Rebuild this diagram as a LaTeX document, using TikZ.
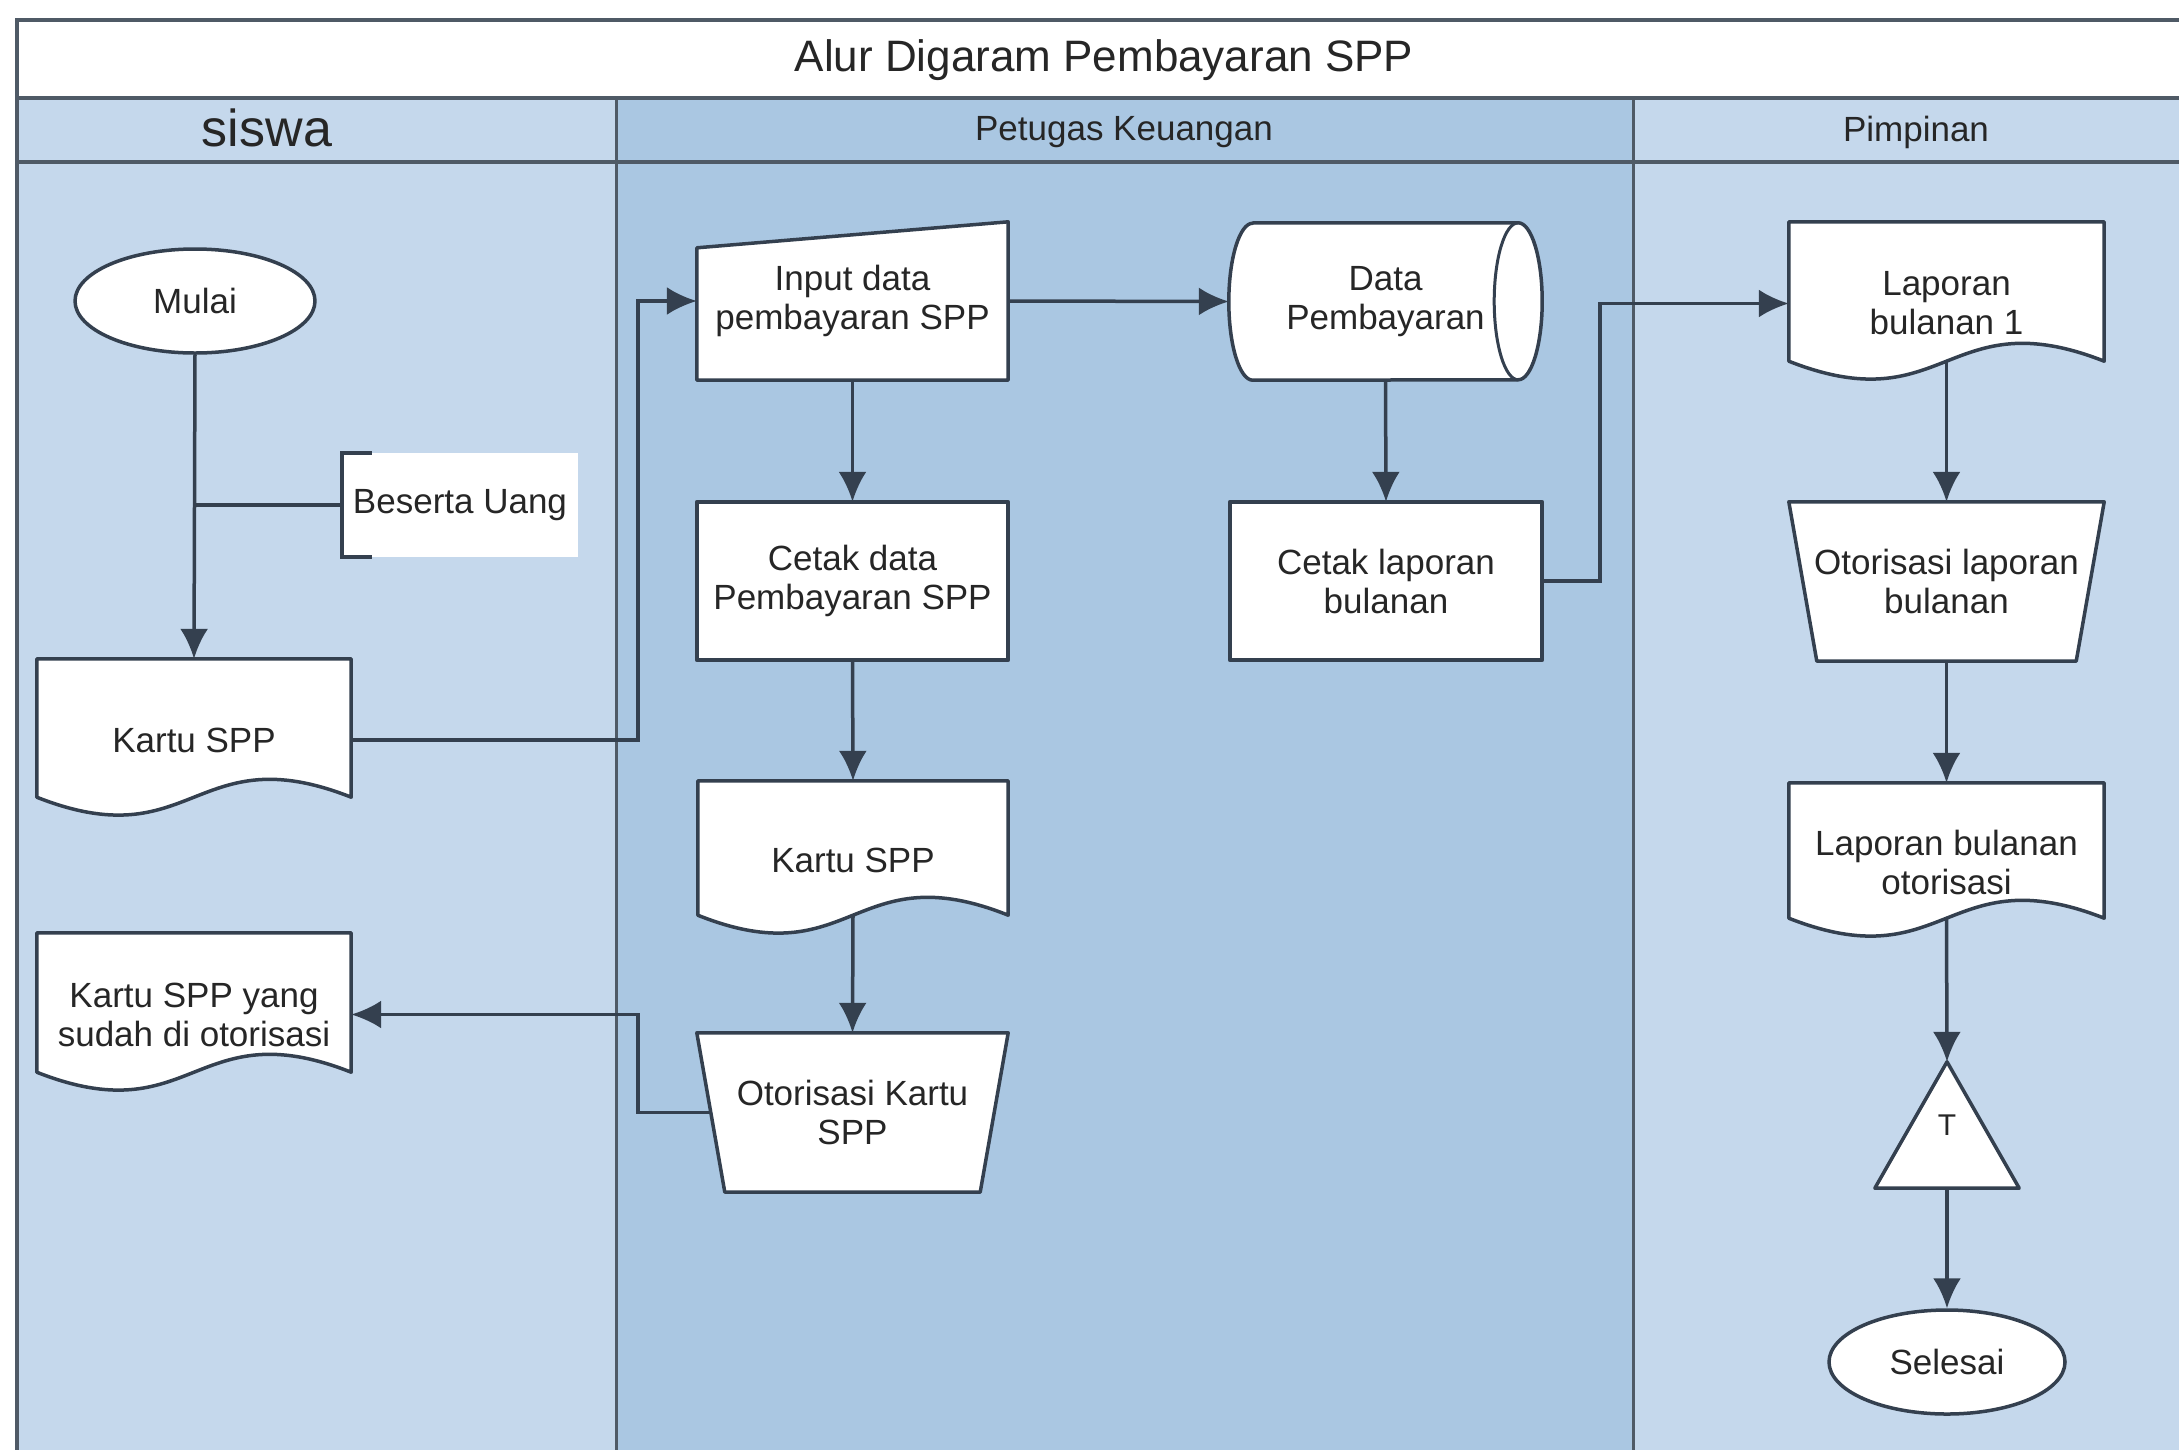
\documentclass[tikz,border=0pt]{standalone}
\usepackage{fontspec}
\setmainfont{Liberation Sans}
\usetikzlibrary{shapes.geometric,arrows.meta,calc}
\definecolor{lnc}{HTML}{34404F}
\definecolor{frm}{HTML}{4F5A66}
\definecolor{lanea}{HTML}{C5D8EC}
\definecolor{laneb}{HTML}{AAC7E2}
\definecolor{txc}{HTML}{262626}
\pgfdeclarelayer{lanes}
\pgfdeclarelayer{shapes}
\pgfsetlayers{lanes,shapes,main}
\newcommand\mynodefont{\fontsize{35}{39}\selectfont}
\newcommand\docshape[1]{%
  \begin{pgfonlayer}{shapes}
  \draw[shp] (#1.north west) -- (#1.north east) -- ($(#1.south east)+(0,-24)$)
    .. controls ($(#1.south)+(0,-86)$) and ($(#1.south)+(0,38)$) .. ($(#1.south west)+(0,-24)$) -- cycle;
  \end{pgfonlayer}}
\newcommand\trapshape[1]{%
  \begin{pgfonlayer}{shapes}
  \draw[shp] (#1.north west) -- (#1.north east) -- ($(#1.south east)+(-28,0)$) -- ($(#1.south west)+(28,0)$) -- cycle;
  \end{pgfonlayer}}
\newcommand\rectshape[1]{%
  \begin{pgfonlayer}{shapes}
  \draw[shp] (#1.north west) rectangle (#1.south east);
  \end{pgfonlayer}}
\begin{document}
\begin{tikzpicture}[x=1pt,y=-1pt,
  shp/.style={draw=lnc, line width=3.5pt, fill=white, line join=round},
  txt/.style={font=\mynodefont, align=center, text=txc, inner sep=0pt},
  ln/.style={draw=lnc, line width=3.5pt},
  arr/.style={draw=lnc, line width=3.5pt, -{Latex[length=30pt,width=28pt]}},
  frml/.style={draw=frm, line width=4pt},
  divl/.style={draw=frm, line width=3pt}]
\useasboundingbox (0,0) rectangle (2179,1449);
% lanes
\begin{pgfonlayer}{lanes}
\fill[white] (0,0) rectangle (2179,1449);
\fill[lanea] (17,98) rectangle (616,1470);
\fill[laneb] (616,98) rectangle (1633,1470);
\fill[lanea] (1633,98) rectangle (2200,1470);
\draw[divl] (616,98) -- (616,1470);
\draw[divl] (1633,98) -- (1633,1470);
\draw[frml] (17,98) -- (2200,98);
\draw[frml] (17,162) -- (2200,162);
\draw[frml] (17,20) rectangle (2200,1470);
\end{pgfonlayer}
% headers
\node[font=\fontsize{44}{50}\selectfont, text=txc] (title) at (1104,60) {Alur Digaram Pembayaran SPP};
\node[font=\fontsize{52}{58}\selectfont, text=txc] (hs) at (267,128) {siswa};
\node[txt] (hp) at (1124,132) {Petugas Keuangan};
\node[txt] (hm) at (1916,132) {Pimpinan};
% siswa
\node[shape=ellipse, shp, txt, minimum width=240pt, minimum height=104pt] (m) at (195,301) {Mulai};
\node[txt, fill=white, minimum width=236pt, minimum height=104pt] (bu) at (460,505) {Beserta Uang};
\draw[ln] ($(bu.north west)+(30,0)$) -- (bu.north west) -- (bu.south west) -- ($(bu.south west)+(30,0)$);
\node[txt, minimum width=314pt, minimum height=162pt] (k1) at (194,740) {Kartu SPP};
\docshape{k1}
\node[txt, minimum width=314pt, minimum height=163pt] (k3) at (194,1014.5) {Kartu SPP yang\\sudah di otorisasi};
\docshape{k3}
% petugas
\node[txt, minimum width=311pt, minimum height=158pt] (inp) at (852.5,301) {Input data\\pembayaran SPP};
\begin{pgfonlayer}{shapes}
\draw[shp] (inp.south west) -- (inp.south east) -- (inp.north east) -- ($(inp.north west)+(0,26)$) -- cycle;
\end{pgfonlayer}
\node[txt, minimum width=313pt, minimum height=157pt] (dp) at (1385.5,301.5) {Data\\Pembayaran};
\begin{pgfonlayer}{shapes}
\draw[shp] ($(dp.north west)+(24,0)$) -- ($(dp.north east)+(-24,0)$)
  arc[start angle=90, end angle=-90, x radius=24pt, y radius=78.5pt]
  -- ($(dp.south west)+(24,0)$)
  arc[start angle=270, end angle=90, x radius=24pt, y radius=78.5pt] -- cycle;
\draw[ln, line width=3pt] ($(dp.north east)+(-24,0)$) arc[start angle=90, end angle=270, x radius=24pt, y radius=78.5pt];
\end{pgfonlayer}
\node[txt, minimum width=311pt, minimum height=158pt] (cd) at (852.5,581) {Cetak data\\Pembayaran SPP};
\rectshape{cd}
\node[txt, minimum width=312pt, minimum height=158pt] (cl) at (1386,581) {Cetak laporan\\bulanan};
\rectshape{cl}
\node[txt, minimum width=310pt, minimum height=158pt] (k2) at (853,860) {Kartu SPP};
\docshape{k2}
\node[txt, minimum width=311pt, minimum height=159pt] (ok) at (852.5,1112.5) {Otorisasi Kartu\\SPP};
\trapshape{ok}
% pimpinan
\node[txt, minimum width=315pt, minimum height=163pt] (lb1) at (1946.5,303.5) {Laporan\\bulanan 1};
\docshape{lb1}
\node[txt, minimum width=315pt, minimum height=159pt] (ol) at (1946.5,581.5) {Otorisasi laporan\\bulanan};
\trapshape{ol}
\node[txt, minimum width=315pt, minimum height=159pt] (lbo) at (1946.5,862.5) {Laporan bulanan\\otorisasi};
\docshape{lbo}
\node[txt, font=\fontsize{30}{34}\selectfont, minimum width=144pt, minimum height=126pt] (tri) at (1947,1125) {T};
\begin{pgfonlayer}{shapes}
\draw[shp] (tri.north) -- (tri.south east) -- (tri.south west) -- cycle;
\end{pgfonlayer}
\node[shape=ellipse, shp, txt, minimum width=236pt, minimum height=104pt] (sel) at (1947,1362) {Selesai};
% connectors
\coordinate (xa) at (638,0);
\coordinate (xb) at (1600,0);
\draw[arr] (m.south) -- (k1.north);
\draw[ln] (bu.west) -- (bu.west -| m.south);
\draw[arr] (k1.east) -| (xa |- inp.west) -- (inp.west);
\draw[arr] (inp.east) -- (dp.west);
\draw[arr] (inp.south) -- (cd.north);
\draw[arr] (dp.south) -- (cl.north);
\draw[arr] (cd.south) -- (k2.north);
\draw[arr] ($(k2.south)+(0,-24)$) -- (ok.north);
\coordinate (okl) at ($(ok.west)+(15,0)$);
\draw[arr] (okl) -| (xa |- k3.east) -- (k3.east);
\draw[arr] (cl.east) -| (xb |- lb1.west) -- (lb1.west);
\draw[arr] ($(lb1.south)+(0,-24)$) -- (ol.north);
\draw[arr] (ol.south) -- (lbo.north);
\draw[arr] ($(lbo.south)+(0,-24)$) -- (tri.north);
\draw[arr] (tri.south) -- (sel.north);
\end{tikzpicture}
\end{document}
